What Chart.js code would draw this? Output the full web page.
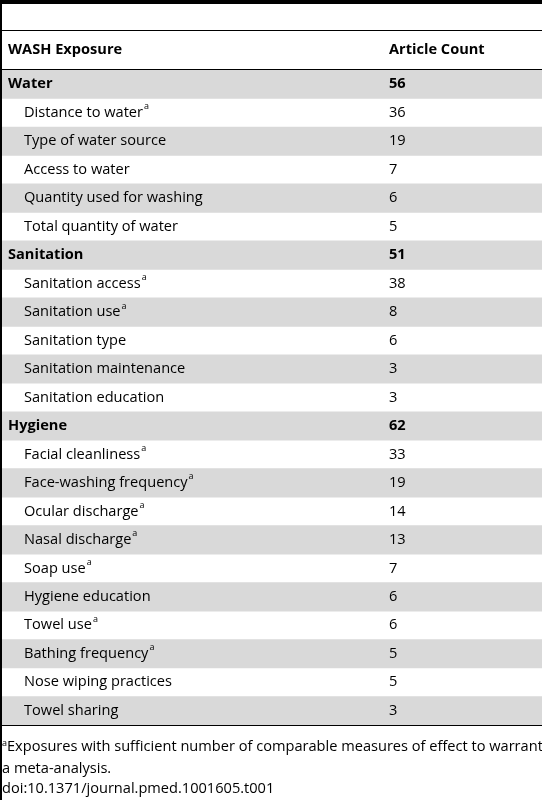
<!DOCTYPE html>
<html><head><meta charset="utf-8">
<script src="https://cdn.jsdelivr.net/npm/chart.js@4"></script>
<style>html,body{margin:0;padding:0;background:#fff}#w{width:542px;height:800px;position:relative}</style>
</head><body><div id="w"><canvas id="c"></canvas></div>
<script>
const exposures = ["Water","Distance to water","Type of water source","Access to water","Quantity used for washing","Total quantity of water",
"Sanitation","Sanitation access","Sanitation use","Sanitation type","Sanitation maintenance","Sanitation education",
"Hygiene","Facial cleanliness","Face-washing frequency","Ocular discharge","Nasal discharge","Soap use","Hygiene education","Towel use","Bathing frequency","Nose wiping practices","Towel sharing"];
const counts = [56,36,19,7,6,5,51,38,8,6,3,3,62,33,19,14,13,7,6,6,5,5,3];
const isGroup = [1,0,0,0,0,0,1,0,0,0,0,0,1,0,0,0,0,0,0,0,0,0,0];
const footnoteA = [0,1,0,0,0,0,0,1,1,0,0,0,0,1,1,1,1,1,0,1,1,0,0];
const headers = ["WASH Exposure","Article Count"];
const FONT = '"Open Sans", sans-serif';
const FS = '14.6px ';

const tablePlugin = {
  id:'tbl',
  afterDraw(chart){
    const ctx = chart.ctx, y = chart.scales.y;
    ctx.save();
    ctx.fillStyle='#000';
    ctx.fillRect(0,0,542,4);
    ctx.fillRect(0,0,2,800);
    ctx.fillRect(2,30,540,1);
    ctx.fillRect(2,69,540,1);
    ctx.fillRect(2,725,540,1);
    ctx.textBaseline='middle';
    ctx.font='bold '+FS+FONT;
    ctx.fillText(headers[0],8,50);
    ctx.fillText(headers[1],389,50);
    exposures.forEach((e,i)=>{
      const py = y.getPixelForValue(i);
      const f=(isGroup[i]?'bold ':'')+FS+FONT;
      ctx.font=f;
      const x0 = isGroup[i]?8:24;
      ctx.fillText(e,x0,py);
      if(footnoteA[i]){
        const w = ctx.measureText(e).width;
        ctx.font='9px '+FONT;
        ctx.fillText('a',x0+w+1,py-6);
        ctx.font=f;
      }
      ctx.fillText(String(counts[i]),389,py);
    });
    ctx.font='9px '+FONT; ctx.fillText('a',2,743);
    ctx.font=FS+FONT;
    ctx.fillText('Exposures with sufficient number of comparable measures of effect to warrant',7,747);
    ctx.fillText('a meta-analysis.',2,769);
    ctx.fillText('doi:10.1371/journal.pmed.1001605.t001',2,789);
    ctx.restore();
  }
};
new Chart(document.getElementById('c'),{
  type:'bar',
  data:{labels:exposures,datasets:[{data:exposures.map(()=>[0,1]),
    backgroundColor:exposures.map((_,i)=>i%2===0?'#d9d9d9':'rgba(0,0,0,0)'),
    barPercentage:1,categoryPercentage:1,borderWidth:0}]},
  options:{indexAxis:'y',responsive:true,maintainAspectRatio:false,animation:false,
    layout:{padding:{left:2,right:0,top:70,bottom:75}},
    plugins:{legend:{display:false},tooltip:{enabled:false}},
    scales:{x:{display:false,min:0,max:1},y:{display:false}}},
  plugins:[tablePlugin]
});
</script></body></html>
